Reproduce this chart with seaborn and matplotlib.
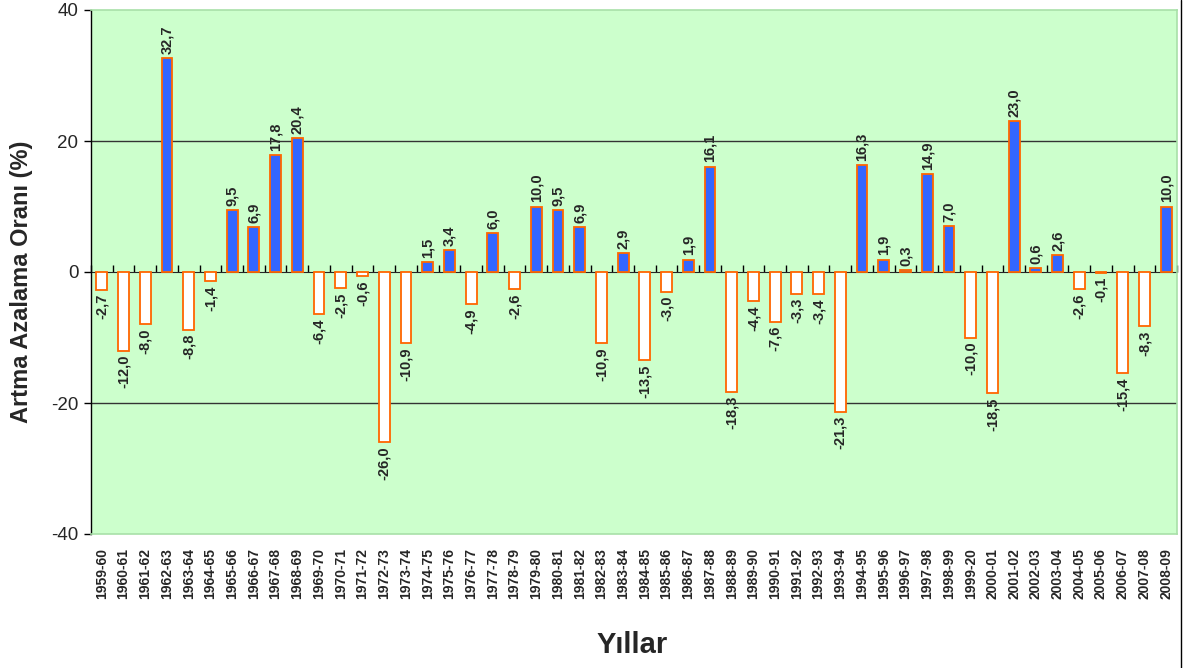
import numpy as np
import pandas as pd
import seaborn as sns
import matplotlib.pyplot as plt
from matplotlib.lines import Line2D

yillar = ['1959-60', '1960-61', '1961-62', '1962-63', '1963-64', '1964-65', '1965-66', '1966-67',
          '1967-68', '1968-69', '1969-70', '1970-71', '1971-72', '1972-73', '1973-74', '1974-75',
          '1975-76', '1976-77', '1977-78', '1978-79', '1979-80', '1980-81', '1981-82', '1982-83',
          '1983-84', '1984-85', '1985-86', '1986-87', '1987-88', '1988-89', '1989-90', '1990-91',
          '1991-92', '1992-93', '1993-94', '1994-95', '1995-96', '1996-97', '1997-98', '1998-99',
          '1999-20', '2000-01', '2001-02', '2002-03', '2003-04', '2004-05', '2005-06', '2006-07',
          '2007-08', '2008-09']
oran = [-2.7, -12.0, -8.0, 32.7, -8.8, -1.4, 9.5, 6.9, 17.8, 20.4,
        -6.4, -2.5, -0.6, -26.0, -10.9, 1.5, 3.4, -4.9, 6.0, -2.6,
        10.0, 9.5, 6.9, -10.9, 2.9, -13.5, -3.0, 1.9, 16.1, -18.3,
        -4.4, -7.6, -3.3, -3.4, -21.3, 16.3, 1.9, 0.3, 14.9, 7.0,
        -10.0, -18.5, 23.0, 0.6, 2.6, -2.6, -0.1, -15.4, -8.3, 10.0]

df = pd.DataFrame({'yil': yillar, 'oran': oran})
df['isaret'] = np.where(df['oran'] >= 0, 'artma', 'azalma')

sns.set_style('white')
plt.rcParams['font.family'] = ['Liberation Sans', 'DejaVu Sans']
plt.rcParams['axes.unicode_minus'] = False

fig = plt.figure(figsize=(11.83, 6.68), dpi=100)
ax = fig.add_axes([91 / 1183, 1 - 534 / 668, 1086 / 1183, 524 / 668])
ax.set_facecolor('#CCFFCC')

sns.barplot(data=df, x='yil', y='oran', hue='isaret',
            palette={'artma': '#3366FF', 'azalma': 'white'}, saturation=1,
            dodge=False, width=0.5, edgecolor='#FF6600', linewidth=1.3,
            legend=False, ax=ax, zorder=3)

for cont in ax.containers:
    lbls = [f"{b.get_height():.1f}".replace('.', ',') for b in cont]
    ax.bar_label(cont, labels=lbls, rotation=90, padding=3,
                 fontsize=10.5, fontweight='bold', zorder=4)

ax.set_ylim(-40, 40)
ax.set_xlim(-0.5, len(yillar) - 0.5)
ax.set_yticks([-40, -20, 0, 20, 40])
ax.axhline(20, color='#333333', lw=1, zorder=1)
ax.axhline(-20, color='#333333', lw=1, zorder=1)

# zero axis with ticks between categories
sec = ax.secondary_xaxis(0.5)
sec.set_xticks(np.arange(len(yillar) + 1) - 0.5)
sec.set_xticklabels([])
sec.tick_params(axis='x', length=5, width=1, direction='out', color='black')
sec.spines['bottom'].set_color('black')
sec.spines['bottom'].set_linewidth(1.2)

ax.tick_params(axis='x', length=0, pad=10, labelsize=10, rotation=90)
for t in ax.get_xticklabels():
    t.set_fontweight('bold')
ax.tick_params(axis='y', length=5, width=1, left=True, labelsize=13.5, pad=4, color='black')

ax.set_xlabel('')
ax.set_ylabel('')
for s in ['top', 'right', 'bottom']:
    ax.spines[s].set_color('#A8E0A8')
    ax.spines[s].set_linewidth(1.2)
ax.spines['left'].set_color('black')
ax.spines['left'].set_linewidth(1)

fig.text(22 / 1183, 1 - 282 / 668, 'Artma Azalama Oranı (%)', rotation=90,
         ha='center', va='center', fontsize=17, fontweight='bold')
fig.text(632 / 1183, 1 - 645 / 668, 'Yıllar', ha='center', va='center',
         fontsize=21, fontweight='bold')
fig.add_artist(Line2D([1181 / 1183, 1181 / 1183], [0, 1], transform=fig.transFigure,
                      color='black', lw=1))

fig.savefig('out.png', dpi=100)
